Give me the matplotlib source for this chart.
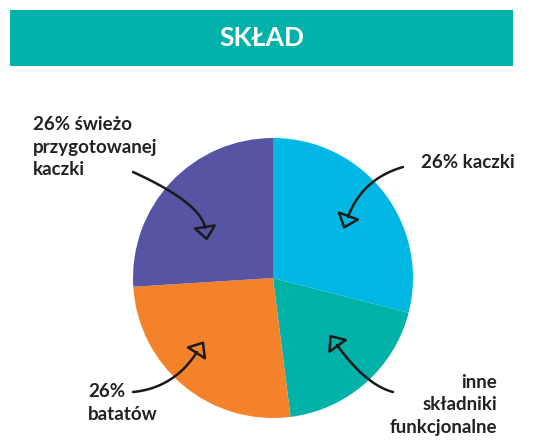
import numpy as np
import matplotlib
matplotlib.use('Agg')
import matplotlib.pyplot as plt
from matplotlib.patches import Rectangle, Polygon

# dane
labels = ['26% kaczki', 'inne\nskładniki\nfunkcjonalne', '26%\nbatatów', '26% świeżo\nprzygotowanej\nkaczki']
values = [29, 19, 26, 26]
colors = ['#00B8E3', '#00B2A8', '#F4822B', '#5654A3']
title = 'SKŁAD'

W, H = 550, 445
fig = plt.figure(figsize=(W / 100, H / 100), dpi=100)
ax = fig.add_axes([0, 0, 1, 1])
ax.set_xlim(0, W)
ax.set_ylim(0, H)
ax.axis('off')


def py(y):
    # y w pikselach (od góry) -> y osi
    return H - y


# pasek tytułu
ax.add_patch(Rectangle((10, py(66)), 503, 56, color='#00B2AA', lw=0))
ax.text(262, py(38), title, color='white', fontsize=19, fontweight='bold',
        family='Lato', ha='center', va='center')

# wykres kołowy
ax.pie(values, colors=colors, startangle=90, counterclock=False,
       center=(273, py(278)), radius=140,
       wedgeprops=dict(linewidth=0))
ax.set_aspect('equal')
ax.set_xlim(0, W)
ax.set_ylim(0, H)

# etykiety
txt_kw = dict(fontsize=13.5, fontweight='bold', family='Lato', color='#222222',
              va='center', linespacing=1.38)
ax.text(421, py(163), labels[0], ha='left', **txt_kw)
ax.text(497, py(405), labels[1], ha='right', **txt_kw)
ax.text(88, py(403), labels[2], ha='left', **txt_kw)
ax.text(33, py(147), labels[3], ha='left', **txt_kw)

# strzałki: start, punkt kontrolny, koniec (piksele)
arrows = [
    ((403, 167), (362, 179), (348, 217)),
    ((393, 392), (366, 385), (337, 345)),
    ((133, 392), (174, 388), (197, 352)),
    ((133, 172), (201, 203), (205, 228)),
]

t = np.linspace(0, 1, 60)
for p0, p1, p2 in arrows:
    p0, p1, p2 = np.array(p0, float), np.array(p1, float), np.array(p2, float)
    curve = ((1 - t)[:, None] ** 2 * p0 + 2 * ((1 - t) * t)[:, None] * p1
             + (t ** 2)[:, None] * p2)
    ax.plot(curve[:, 0], py(curve[:, 1]), color='#1a1a1a', lw=1.8,
            solid_capstyle='round')
    d = p2 - p1
    d = d / np.linalg.norm(d)
    n = np.array([-d[1], d[0]])
    tip = p2 + d * 11
    a = p2 + n * 10 - d * 1
    b = p2 - n * 10 - d * 1
    tri = np.array([a, tip, b])
    ax.add_patch(Polygon(np.column_stack([tri[:, 0], py(tri[:, 1])]),
                         closed=True, fill=False, edgecolor='#1a1a1a',
                         lw=1.8, joinstyle='round'))

fig.savefig('out.png', dpi=100)
